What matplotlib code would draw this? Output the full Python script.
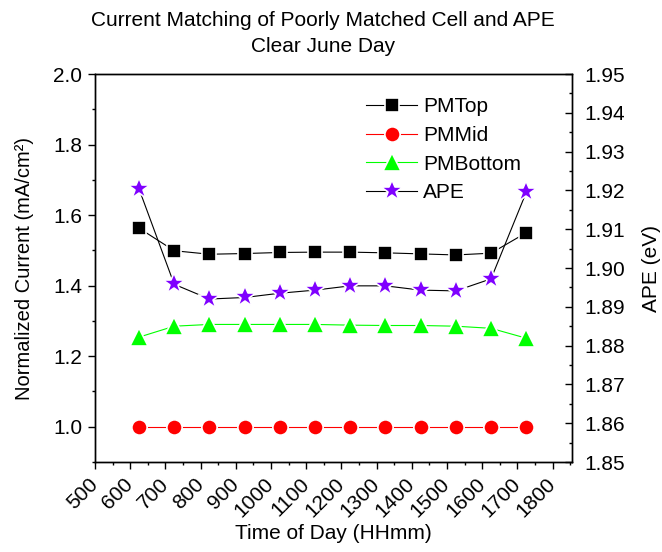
import matplotlib
matplotlib.use("Agg")
import matplotlib.pyplot as plt
from matplotlib.ticker import MultipleLocator

plt.rcParams['font.family'] = ['Liberation Sans', 'DejaVu Sans']

# data
time_hhmm = [625, 725, 825, 925, 1025, 1125, 1225, 1325, 1425, 1525, 1625, 1725]
pm_top = [1.563, 1.499, 1.489, 1.491, 1.494, 1.495, 1.495, 1.493, 1.490, 1.487, 1.492, 1.550]
pm_mid = [1.000, 1.000, 1.000, 1.000, 1.000, 1.000, 1.000, 1.000, 1.000, 1.000, 1.000, 1.000]
pm_bottom = [1.254, 1.285, 1.290, 1.290, 1.290, 1.290, 1.288, 1.287, 1.287, 1.285, 1.279, 1.251]
ape = [1.9204, 1.8958, 1.8920, 1.8924, 1.8935, 1.8943, 1.8954, 1.8954, 1.8943, 1.8941, 1.8972, 1.9195]

fig = plt.figure(figsize=(6.62, 5.52), dpi=100)
ax = fig.add_axes([95 / 662, 1 - 462 / 552, (572 - 95) / 662, (462 - 74) / 552])
ax2 = ax.twinx()

halo = dict(markeredgecolor='white', markeredgewidth=1.2)
l1, = ax.plot(time_hhmm, pm_top, '-s', color='black', lw=0.8, ms=10,
              markerfacecolor='black', label='PMTop', **halo)
l2, = ax.plot(time_hhmm, pm_mid, '-o', color='#ff0000', lw=0.8, ms=11,
              markerfacecolor='#ff0000', label='PMMid', **halo)
l3, = ax.plot(time_hhmm, pm_bottom, '-^', color='#00ff00', lw=0.8, ms=12.5,
              markerfacecolor='#00ff00', label='PMBottom', **halo)
l4, = ax2.plot(time_hhmm, ape, '-*', color='black', lw=0.8, ms=16.5,
               markerfacecolor='#7f00ff', label='APE', **halo)

ax.set_xlim(500, 1855)
ax.set_ylim(0.9, 2.0)
ax2.set_ylim(1.85, 1.95)

ax.xaxis.set_major_locator(MultipleLocator(100))
ax.xaxis.set_minor_locator(MultipleLocator(50))
ax.yaxis.set_major_locator(MultipleLocator(0.2))
ax.yaxis.set_minor_locator(MultipleLocator(0.1))
ax2.yaxis.set_major_locator(MultipleLocator(0.01))
ax2.yaxis.set_minor_locator(MultipleLocator(0.005))
ax.yaxis.set_major_formatter(matplotlib.ticker.FormatStrFormatter('%.1f'))
ax2.yaxis.set_major_formatter(matplotlib.ticker.FormatStrFormatter('%.2f'))

ax.tick_params(axis='x', which='both', direction='out', top=False, labelsize=15, pad=9)
ax.tick_params(axis='y', which='both', direction='out', right=False, labelsize=15, pad=4)
ax.tick_params(which='major', length=5, width=1)
ax.tick_params(which='minor', length=2.5, width=1)
ax2.tick_params(axis='y', which='both', direction='in', labelsize=15, pad=9)
ax2.tick_params(which='major', length=5, width=1)
ax2.tick_params(which='minor', length=2.5, width=1)

for lab in ax.get_xticklabels():
    lab.set_rotation(45)
    lab.set_ha('right')
    lab.set_va('center')
    lab.set_rotation_mode('anchor')

for a in (ax, ax2):
    for sp in a.spines.values():
        sp.set_linewidth(1.0)

ax.set_xlabel('Time of Day (HHmm)', fontsize=15, labelpad=2)
ax.set_ylabel('Normalized Current (mA/cm²)', fontsize=14.5, labelpad=14)
ax2.set_ylabel('APE (eV)', fontsize=15, labelpad=12)

fig.text(323 / 662, 1 - 20 / 552, 'Current Matching of Poorly Matched Cell and APE',
         ha='center', va='center', fontsize=15)
fig.text(323 / 662, 1 - 46 / 552, 'Clear June Day', ha='center', va='center', fontsize=15)

ax.legend([l1, l2, l3, l4], ['PMTop', 'PMMid', 'PMBottom', 'APE'],
          loc='upper left', bbox_to_anchor=(366 / 662, 1 - 97 / 552),
          bbox_transform=fig.transFigure, frameon=False, fontsize=15,
          borderpad=0, borderaxespad=0, handlelength=2.45, handletextpad=0.3,
          labelspacing=0.47, numpoints=1)

fig.savefig('out.png', dpi=100)
